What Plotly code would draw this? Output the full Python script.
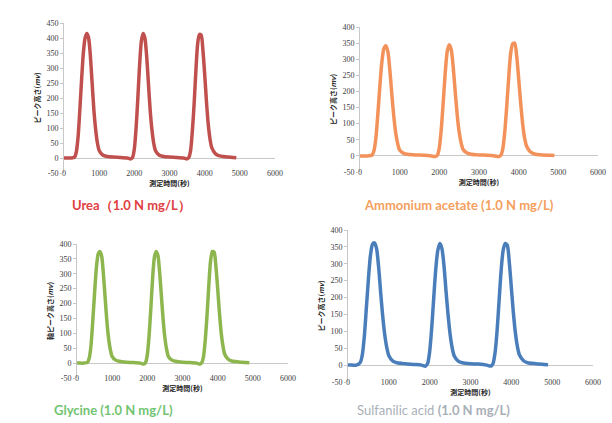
import plotly.graph_objects as go

# Measurement time points (s), shared sampling grid
time_s = [0, 100, 200, 300, 350, 400, 450, 500, 550, 600, 650, 700, 750, 800, 850, 900, 950, 1000,
          1100, 1200, 1400, 1600, 1800, 1900,
          1950, 2000, 2050, 2100, 2150, 2200, 2250, 2300, 2350, 2400, 2450, 2500, 2550, 2600,
          2700, 2800, 3000, 3200, 3400, 3500,
          3550, 3600, 3650, 3700, 3750, 3800, 3850, 3900, 3950, 4000, 4050, 4100, 4150, 4200,
          4300, 4400, 4600, 4800, 4900]

urea = [0, 0, 0, 3, 20, 70, 160, 260, 350, 400, 415, 400, 340, 250, 160, 95, 50, 25,
        10, 6, 3, 2, 0, -3,
        2, 30, 100, 200, 310, 390, 415, 400, 340, 250, 160, 95, 50, 25,
        10, 6, 3, 2, 0, -3,
        2, 25, 90, 180, 290, 380, 412, 410, 360, 280, 190, 115, 65, 35,
        15, 8, 4, 2, 1]

ammonium_acetate = [0, 0, 0, 2, 15, 55, 130, 215, 290, 332, 342, 325, 270, 195, 125, 72, 38, 18,
                    8, 5, 3, 2, 0, -2,
                    2, 25, 85, 170, 260, 325, 345, 330, 275, 200, 128, 74, 40, 20,
                    9, 5, 3, 2, 0, -2,
                    2, 22, 75, 155, 245, 320, 348, 350, 310, 240, 165, 100, 55, 30,
                    12, 6, 3, 2, 1]

glycine = [0, 0, 0, 3, 18, 62, 145, 235, 318, 365, 375, 360, 300, 220, 140, 82, 44, 22,
           10, 6, 3, 2, 0, -3,
           2, 28, 92, 185, 285, 355, 375, 362, 305, 225, 145, 84, 45, 22,
           10, 6, 3, 2, 0, -3,
           2, 24, 82, 165, 265, 345, 375, 372, 325, 250, 170, 102, 58, 30,
           13, 7, 4, 2, 1]

sulfanilic_acid = [0, 0, 0, 8, 30, 85, 170, 255, 325, 358, 362, 345, 290, 215, 145, 90, 52, 28,
                   12, 7, 4, 2, 0, -3,
                   5, 40, 110, 200, 285, 340, 360, 345, 295, 220, 150, 92, 52, 28,
                   12, 7, 4, 3, 0, -3,
                   4, 35, 100, 190, 280, 340, 360, 355, 305, 230, 155, 95, 54, 30,
                   13, 7, 4, 2, 1]

x_ticks = [0, 1000, 2000, 3000, 4000, 5000, 6000]
y_ticks_urea = [-50, 0, 50, 100, 150, 200, 250, 300, 350, 400, 450]
y_ticks_other = [-50, 0, 50, 100, 150, 200, 250, 300, 350, 400]

x_title = "<b>測定時間(秒)</b>"
y_title = "<b>ピーク高さ(<i>mv</i>)</b>"
y_title_gly = "<b>軸ピーク高さ(<i>mv</i>)</b>"

W, H = 612, 423

def dom_x(a, b):
    return [a / W, b / W]

def dom_y(top, bottom):
    return [1 - bottom / H, 1 - top / H]

panels = [
    dict(y=urea, color="#C0504D", yt=y_ticks_urea, yr=[-50, 450], ytitle=y_title,
         dx=dom_x(64, 275), dy=dom_y(23, 173)),
    dict(y=ammonium_acetate, color="#F2925A", yt=y_ticks_other, yr=[-50, 400], ytitle=y_title,
         dx=dom_x(360, 598), dy=dom_y(27, 172)),
    dict(y=glycine, color="#8DB64F", yt=y_ticks_other, yr=[-50, 400], ytitle=y_title_gly,
         dx=dom_x(77, 288), dy=dom_y(244, 378)),
    dict(y=sulfanilic_acid, color="#4A7EBB", yt=y_ticks_other, yr=[-50, 400], ytitle=y_title,
         dx=dom_x(348, 593), dy=dom_y(230, 382)),
]

fig = go.Figure()
tick_font = dict(family="Liberation Serif, DejaVu Serif", size=8, color="#404040")
title_font = dict(family="Noto Sans CJK JP", size=7, color="#222222")

for i, p in enumerate(panels, start=1):
    xa = "x" if i == 1 else f"x{i}"
    ya = "y" if i == 1 else f"y{i}"
    fig.add_trace(go.Scatter(
        x=time_s, y=p["y"], xaxis=xa, yaxis=ya, mode="lines",
        line=dict(color=p["color"], width=3.5, shape="spline", smoothing=0.7),
        showlegend=False, hoverinfo="skip"))
    xkey = "xaxis" if i == 1 else f"xaxis{i}"
    ykey = "yaxis" if i == 1 else f"yaxis{i}"
    fig.update_layout({
        xkey: dict(domain=p["dx"], anchor=ya, range=[0, 6000], tickvals=x_ticks,
                   ticktext=[str(v) for v in x_ticks],
                   showgrid=False, zeroline=False, showline=False, automargin=False,
                   tickfont=tick_font, ticks="", ticklabelstandoff=-6,
                   title=dict(text=x_title, font=title_font, standoff=0)),
        ykey: dict(domain=p["dy"], anchor=xa, range=p["yr"], tickvals=p["yt"],
                   ticktext=[str(v) for v in p["yt"]],
                   showgrid=False, zeroline=True, zerolinecolor="#C8C8C8", zerolinewidth=1,
                   showline=True, linecolor="#C8C8C8", linewidth=1, automargin=False,
                   ticks="outside", ticklen=3, tickcolor="#C8C8C8",
                   tickfont=tick_font,
                   title=dict(text=p["ytitle"], font=title_font, standoff=4)),
    })

label_font = "Lato, Open Sans, sans-serif"
annotations = [
    dict(text="<b>Urea（1.0 N mg/L）</b>", x=70 / W, y=1 - 205 / H, xanchor="left",
         font=dict(family=label_font, size=13, color="#E0403F")),
    dict(text="<b>Ammonium acetate (1.0 N mg/L)</b>", x=362 / W, y=1 - 205 / H, xanchor="left",
         font=dict(family=label_font, size=13, color="#F5A05E")),
    dict(text="<b>Glycine (1.0 N mg/L)</b>", x=52 / W, y=1 - 410 / H, xanchor="left",
         font=dict(family=label_font, size=13, color="#72C472")),
    dict(text="Sulfanilic acid <b>(1.0 N mg/L)</b>", x=355 / W, y=1 - 410 / H, xanchor="left",
         font=dict(family=label_font, size=13, color="#A9B0B8")),
]
for a in annotations:
    a.update(xref="paper", yref="paper", yanchor="middle", showarrow=False)

fig.update_layout(
    width=W, height=H, margin=dict(l=0, r=0, t=0, b=0, autoexpand=False),
    paper_bgcolor="white", plot_bgcolor="white",
    annotations=annotations,
)

fig.write_html("out.html", config={"displayModeBar": False},
               post_script="document.body.style.margin='0';document.body.style.overflow='hidden';")
